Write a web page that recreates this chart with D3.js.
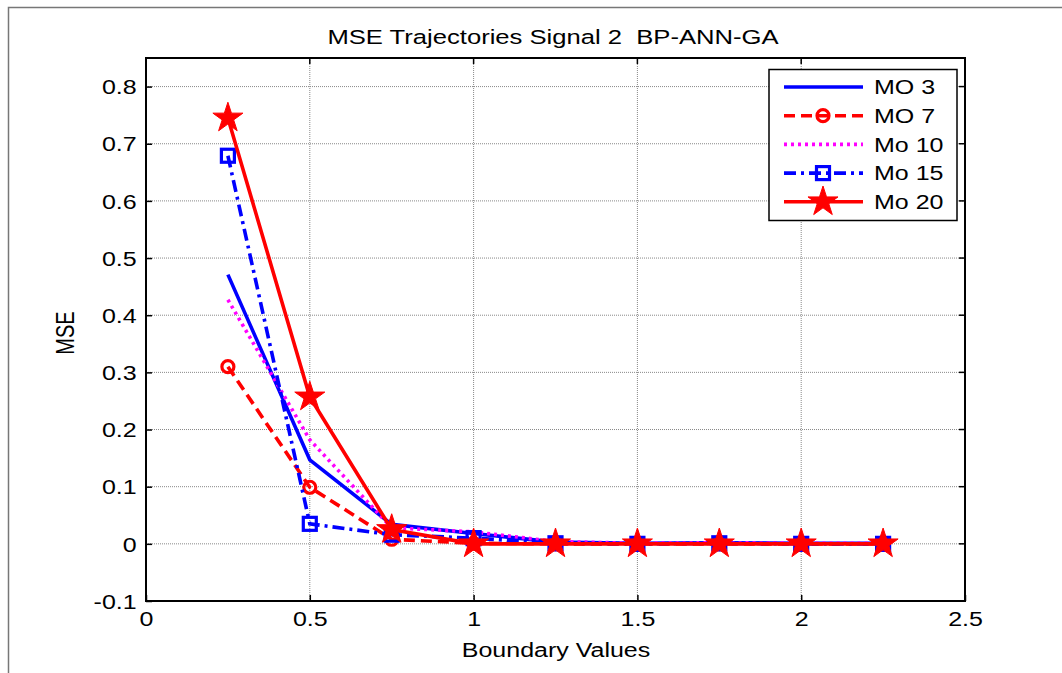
<!DOCTYPE html>
<html>
<head>
<meta charset="utf-8">
<script src="https://cdn.jsdelivr.net/npm/d3@7"></script>
<style>
  body { margin: 0; background: #fff; }
  svg text { font-family: "Liberation Sans", Arial, sans-serif; fill: #000; }
</style>
</head>
<body>
<div class="container"></div>
<script>
var w = 1062;
var h = 673;

// data
var boundary = [0.25, 0.5, 0.75, 1, 1.25, 1.5, 1.75, 2, 2.25];
var mo3  = [0.471, 0.147, 0.034, 0.018, 0.003, 0.001, 0.002, 0.001, 0.001];
var mo7  = [0.310, 0.099, 0.008, 0.001, 0.000, 0.000, 0.000, 0.000, 0.000];
var mo10 = [0.427, 0.182, 0.028, 0.021, 0.004, 0.001, 0.002, 0.001, 0.001];
var mo15 = [0.679, 0.035, 0.016, 0.010, 0.001, 0.000, 0.001, 0.000, 0.000];
var mo20 = [0.745, 0.257, 0.025, 0.000, 0.000, 0.000, 0.000, 0.000, 0.000];

var seriesNames = ["MO 3", "MO 7", "Mo 10", "Mo 15", "Mo 20"];
var xTicks = [0, 0.5, 1, 1.5, 2, 2.5];
var yTicks = [-0.1, 0, 0.1, 0.2, 0.3, 0.4, 0.5, 0.6, 0.7, 0.8];
var tickLabel = d => String(d); // plain hyphen for negatives, like the reference

var styles = [
  { color: "#0000ff", dash: null, marker: null },
  { color: "#ff0000", dash: "11,6", marker: "circle" },
  { color: "#ff00ff", dash: "3,4", marker: null },
  { color: "#0000ff", dash: "12,5,3,5", marker: "square" },
  { color: "#ff0000", dash: null, marker: "star" }
];

var allSeries = [mo3, mo7, mo10, mo15, mo20].map(function (vals, i) {
  return {
    name: seriesNames[i],
    style: styles[i],
    points: vals.map(function (v, j) { return { x: boundary[j], y: v }; })
  };
});

var plotL = 146, plotR = 965, plotT = 58, plotB = 601;
var stretch = "scale(1.25,1)"; // reference text is drawn wide
var lw = 3.6;

var xScale = d3.scaleLinear().domain([0, 2.5]).range([plotL, plotR]);
var yScale = d3.scaleLinear().domain([-0.1, 0.85]).range([plotB, plotT]);

var svg = d3.select(".container")
  .append("svg")
  .attr("width", w)
  .attr("height", h);

svg.append("rect")
  .attr("width", w).attr("height", h)
  .attr("fill", "#fff");

// outer figure frame (left + top visible)
svg.append("path")
  .attr("d", "M8.5," + h + "V7.5H" + w)
  .attr("fill", "none")
  .attr("stroke", "#777")
  .attr("stroke-width", 1.5);

// grid
svg.append("g")
  .selectAll("line")
  .data(xTicks.slice(1, -1))
  .enter()
  .append("line")
  .attr("x1", d => xScale(d)).attr("x2", d => xScale(d))
  .attr("y1", plotT).attr("y2", plotB)
  .attr("stroke", "#888")
  .attr("stroke-width", 1)
  .attr("stroke-dasharray", "1,1");

svg.append("g")
  .selectAll("line")
  .data(yTicks.slice(1))
  .enter()
  .append("line")
  .attr("x1", plotL).attr("x2", plotR)
  .attr("y1", d => yScale(d)).attr("y2", d => yScale(d))
  .attr("stroke", "#888")
  .attr("stroke-width", 1)
  .attr("stroke-dasharray", "1,1");

// axes (ticks inside, MATLAB-like)
var x_axis = d3.axisBottom(xScale).tickValues(xTicks).tickSizeInner(-6).tickSizeOuter(0)
  .tickFormat(tickLabel);
var y_axis = d3.axisLeft(yScale).tickValues(yTicks).tickSizeInner(-6).tickSizeOuter(0)
  .tickFormat(tickLabel);

var gx = svg.append("g")
  .attr("transform", "translate(0," + plotB + ")")
  .call(x_axis);
gx.select(".domain").remove();
gx.selectAll("line").attr("stroke", "#000").attr("stroke-width", 1.5);
gx.selectAll("text")
  .attr("font-size", 20).attr("y", 11).attr("dy", "0.71em")
  .attr("font-family", "Liberation Sans, Arial, sans-serif")
  .attr("fill", "#000")
  .attr("transform", stretch);

var gy = svg.append("g")
  .attr("transform", "translate(" + plotL + ",0)")
  .call(y_axis);
gy.select(".domain").remove();
gy.selectAll("line").attr("stroke", "#000").attr("stroke-width", 1.5);
gy.selectAll("text")
  .attr("font-size", 20).attr("x", -7.5).attr("dy", "0.36em")
  .attr("font-family", "Liberation Sans, Arial, sans-serif")
  .attr("fill", "#000")
  .attr("transform", stretch);

// top/right ticks
svg.append("g").selectAll("line").data(xTicks).enter().append("line")
  .attr("x1", d => xScale(d)).attr("x2", d => xScale(d))
  .attr("y1", plotT).attr("y2", plotT + 6)
  .attr("stroke", "#000").attr("stroke-width", 1.5);
svg.append("g").selectAll("line").data(yTicks).enter().append("line")
  .attr("x1", plotR).attr("x2", plotR - 6)
  .attr("y1", d => yScale(d)).attr("y2", d => yScale(d))
  .attr("stroke", "#000").attr("stroke-width", 1.5);

// series
var line = d3.line().x(d => xScale(d.x)).y(d => yScale(d.y));
var star = d3.symbol().type(d3.symbolStar).size(280);

function drawMarker(g, type, color, x, y) {
  if (type === "circle") {
    g.append("circle").attr("cx", x).attr("cy", y).attr("r", 6)
      .attr("fill", "none").attr("stroke", color).attr("stroke-width", 3.2);
  } else if (type === "square") {
    g.append("rect").attr("x", x - 6.5).attr("y", y - 6.5)
      .attr("width", 13).attr("height", 13)
      .attr("fill", "none").attr("stroke", color).attr("stroke-width", 3.2);
  } else if (type === "star") {
    g.append("path").attr("d", star())
      .attr("transform", "translate(" + x + "," + y + ")")
      .attr("fill", color).attr("stroke", color).attr("stroke-width", 1);
  }
}

allSeries.forEach(function (s) {
  var g = svg.append("g");
  g.append("path")
    .datum(s.points)
    .attr("d", line)
    .attr("fill", "none")
    .attr("stroke", s.style.color)
    .attr("stroke-width", lw)
    .attr("stroke-dasharray", s.style.dash);
  if (s.style.marker) {
    s.points.forEach(function (p) {
      drawMarker(g, s.style.marker, s.style.color, xScale(p.x), yScale(p.y));
    });
  }
});

// axes box
svg.append("rect")
  .attr("x", plotL).attr("y", plotT)
  .attr("width", plotR - plotL).attr("height", plotB - plotT)
  .attr("fill", "none")
  .attr("stroke", "#000")
  .attr("stroke-width", 2);

// title and labels
function wideText(x, y, str, size) {
  return svg.append("g")
    .attr("transform", "translate(" + x + "," + y + ") " + stretch)
    .append("text")
    .attr("text-anchor", "middle")
    .attr("font-size", size)
    .style("white-space", "pre")
    .text(str);
}

wideText(553, 44, "MSE Trajectories Signal 2  BP-ANN-GA", 20.5);
wideText(556, 657, "Boundary Values", 20);
svg.append("g")
  .attr("transform", "translate(74,333) rotate(-90) scale(1,1.25)")
  .append("text")
  .attr("text-anchor", "middle")
  .attr("font-size", 20)
  .text("MSE");

// legend
var legend = svg.append("g");
legend.append("rect")
  .attr("x", 769).attr("y", 69.5)
  .attr("width", 188).attr("height", 151)
  .attr("fill", "#fff")
  .attr("stroke", "#000")
  .attr("stroke-width", 1.5);

allSeries.forEach(function (s, i) {
  var yy = 87 + i * 28.7;
  legend.append("line")
    .attr("x1", 784).attr("x2", 863)
    .attr("y1", yy).attr("y2", yy)
    .attr("stroke", s.style.color)
    .attr("stroke-width", lw)
    .attr("stroke-dasharray", s.style.dash);
  if (s.style.marker) drawMarker(legend, s.style.marker, s.style.color, 823, yy);
  legend.append("g")
    .attr("transform", "translate(874," + yy + ") " + stretch)
    .append("text")
    .attr("dy", "0.36em")
    .attr("font-size", 20)
    .text(s.name);
});
</script>
</body>
</html>
